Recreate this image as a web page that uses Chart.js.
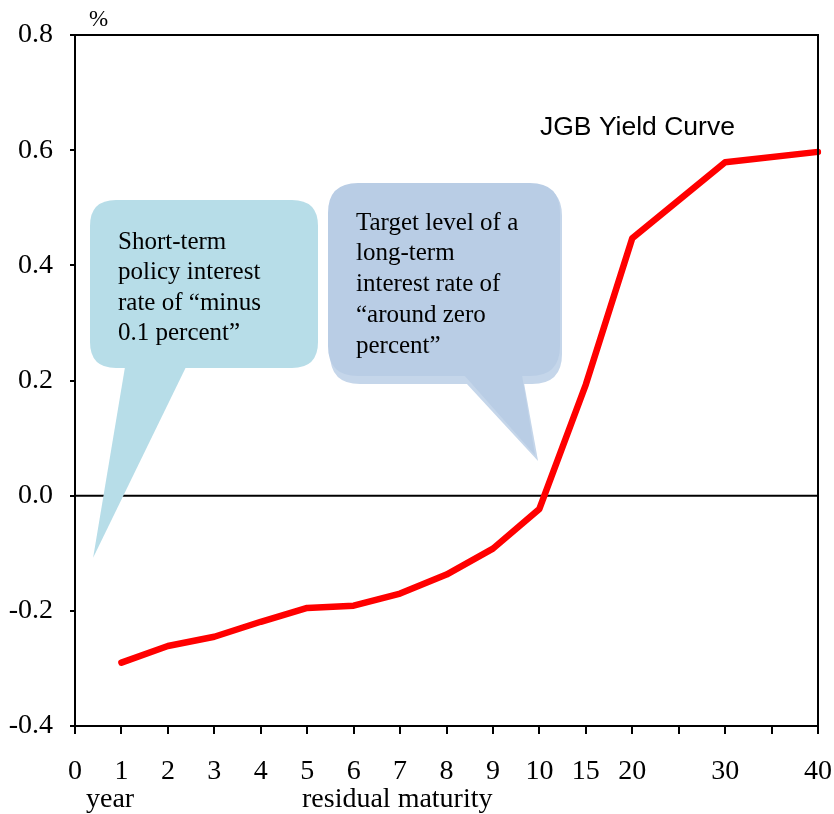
<!DOCTYPE html>
<html>
<head>
<meta charset="utf-8">
<script src="https://cdn.jsdelivr.net/npm/chart.js@4"></script>
<style>
  html, body { margin: 0; padding: 0; background: #fff; }
  #wrap { position: relative; width: 834px; height: 814px; }
</style>
</head>
<body>
<div id="wrap"><canvas id="c" width="834" height="814"></canvas></div>
<script>
// JGB yield curve by residual maturity (years), in percent.
// 25 and 35 years have tick marks but no label and no observation.
var maturityLabels = ["0", "1", "2", "3", "4", "5", "6", "7", "8", "9", "10", "15", "20", "", "30", "", "40"];
var yields = [null, -0.29, -0.261, -0.245, -0.219, -0.195, -0.191, -0.170, -0.137, -0.092, -0.023, 0.193, 0.447, null, 0.579, null, 0.597];
var yTicks = [-0.4, -0.2, 0.0, 0.2, 0.4, 0.6, 0.8];

var serif = "'Liberation Serif', 'Times New Roman', serif";
var sans  = "'Liberation Sans', Arial, sans-serif";

function roundRectPath(ctx, x, y, w, h, r) {
  ctx.moveTo(x + r, y);
  ctx.lineTo(x + w - r, y);
  ctx.quadraticCurveTo(x + w, y, x + w, y + r);
  ctx.lineTo(x + w, y + h - r);
  ctx.quadraticCurveTo(x + w, y + h, x + w - r, y + h);
  ctx.lineTo(x + r, y + h);
  ctx.quadraticCurveTo(x, y + h, x, y + h - r);
  ctx.lineTo(x, y + r);
  ctx.quadraticCurveTo(x, y, x + r, y);
}

// speech bubble: rounded box + triangular tail pointing at (tipX, tipY)
function bubble(ctx, b, fill) {
  ctx.beginPath();
  roundRectPath(ctx, b.x, b.y, b.w, b.h, b.r);
  ctx.fillStyle = fill;
  ctx.fill();
  ctx.beginPath();
  ctx.moveTo(b.tailL, b.y + b.h - 1);
  ctx.lineTo(b.tipX, b.tipY);
  ctx.lineTo(b.tailR, b.y + b.h - 1);
  ctx.closePath();
  ctx.fill();
}

function bubbleText(ctx, lines, x, y, step) {
  ctx.fillStyle = "#000";
  ctx.font = "25px " + serif;
  ctx.textAlign = "left";
  ctx.textBaseline = "middle";
  lines.forEach(function (t, i) { ctx.fillText(t, x, y + i * step); });
}

var decorations = {
  id: "decorations",
  beforeDatasetsDraw: function (chart) {
    var ctx = chart.ctx, a = chart.chartArea, ys = chart.scales.y, xs = chart.scales.x;
    ctx.save();
    // zero line
    var y0 = ys.getPixelForValue(0);
    ctx.strokeStyle = "#000";
    ctx.lineWidth = 2;
    ctx.beginPath();
    ctx.moveTo(a.left, y0);
    ctx.lineTo(a.right, y0);
    ctx.stroke();

    // bubble 1: short-term policy rate, tail points at about -0.1
    bubble(ctx, {
      x: 90, y: 200, w: 228, h: 168, r: 26,
      tailL: 125, tailR: 186,
      tipX: xs.getPixelForValue(0.39), tipY: ys.getPixelForValue(-0.108)
    }, "#b7dde8");
    bubbleText(ctx, ["Short-term", "policy interest", "rate of \u201cminus", "0.1 percent\u201d"], 118, 242, 30.5);

    // bubble 2: long-term target, tail points near 10-year, around zero
    bubble(ctx, {
      x: 330, y: 186, w: 232, h: 198, r: 30,
      tailL: 466, tailR: 524,
      tipX: xs.getPixelForValue(9.95) + 1, tipY: ys.getPixelForValue(0.06)
    }, "#c5d6ea");
    bubble(ctx, {
      x: 328, y: 183, w: 232, h: 193, r: 30,
      tailL: 464, tailR: 522,
      tipX: xs.getPixelForValue(9.95) - 2, tipY: ys.getPixelForValue(0.07)
    }, "#b9cde5");
    bubbleText(ctx, ["Target level of a", "long-term", "interest rate of", "\u201caround zero", "percent\u201d"], 356, 223, 30.8);
    ctx.restore();
  },
  afterDraw: function (chart) {
    var ctx = chart.ctx, a = chart.chartArea;
    ctx.save();
    // top and right frame
    ctx.strokeStyle = "#000";
    ctx.lineWidth = 2;
    ctx.beginPath();
    ctx.moveTo(a.left - 5, a.top);
    ctx.lineTo(a.right, a.top);
    ctx.lineTo(a.right, a.bottom);
    ctx.stroke();

    ctx.fillStyle = "#000";
    ctx.textAlign = "left";
    ctx.textBaseline = "alphabetic";
    ctx.font = "23px " + serif;
    ctx.fillText("%", 89, 26);

    ctx.font = "28px " + serif;
    ctx.fillText("year", 86, 807);
    ctx.fillText("residual maturity", 302, 807);

    ctx.textBaseline = "middle";
    ctx.font = "26.5px " + sans;
    ctx.fillText("JGB Yield Curve", 540, 128);
    ctx.restore();
  }
};

new Chart(document.getElementById("c"), {
  type: "line",
  data: {
    labels: maturityLabels,
    datasets: [{
      label: "JGB Yield Curve",
      data: yields,
      borderColor: "#ff0000",
      borderWidth: 6.5,
      borderCapStyle: "round",
      borderJoinStyle: "round",
      pointRadius: 0,
      spanGaps: true,
      tension: 0
    }]
  },
  options: {
    responsive: false,
    animation: false,
    events: [],
    layout: { padding: { top: 35, right: 16, left: 0, bottom: 0 } },
    plugins: { legend: { display: false }, tooltip: { enabled: false } },
    scales: {
      x: {
        offset: false,
        afterFit: function (s) { s.height = 88; s.paddingLeft = 0; s.paddingRight = 0; },
        border: { display: true, color: "#000", width: 2 },
        grid: { drawOnChartArea: false, drawTicks: true, tickLength: 8, color: "#000", lineWidth: 2 },
        ticks: {
          color: "#000", font: { family: serif, size: 28 },
          autoSkip: false, maxRotation: 0, padding: 21
        }
      },
      y: {
        min: -0.4, max: 0.8,
        afterFit: function (s) { s.width = 75; s.paddingTop = 0; s.paddingBottom = 0; },
        afterBuildTicks: function (s) { s.ticks = yTicks.map(function (v) { return { value: v }; }); },
        border: { display: true, color: "#000", width: 2 },
        grid: { drawOnChartArea: false, drawTicks: true, tickLength: 5, color: "#000", lineWidth: 2 },
        ticks: {
          color: "#000", font: { family: serif, size: 28 }, padding: 17,
          callback: function (v) { return Number(v).toFixed(1); }
        }
      }
    }
  },
  plugins: [decorations]
});
</script>
</body>
</html>
